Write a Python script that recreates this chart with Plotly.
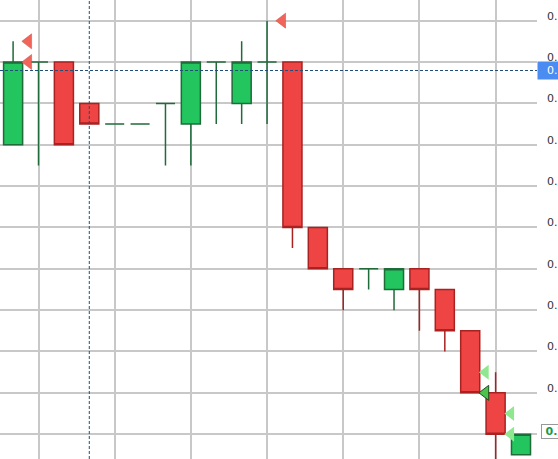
import plotly.graph_objects as go

# bougies (index de barre) et prix OHLC
bar_idx = list(range(21))
open_ = [0.7358, 0.7362, 0.7362, 0.7360, 0.7359, 0.7359, 0.7360, 0.7359, 0.7362, 0.7360, 0.7362,
         0.7362, 0.7354, 0.7352, 0.7352, 0.7351, 0.7352, 0.7351, 0.7349, 0.7346, 0.7343]
high = [0.7363, 0.7362, 0.7362, 0.7360, 0.7359, 0.7359, 0.7360, 0.7362, 0.7362, 0.7363, 0.7364,
        0.7362, 0.7354, 0.7352, 0.7352, 0.7352, 0.7352, 0.7351, 0.7349, 0.7347, 0.7344]
low = [0.7358, 0.7357, 0.7358, 0.7359, 0.7359, 0.7359, 0.7357, 0.7357, 0.7359, 0.7359, 0.7359,
       0.7353, 0.7352, 0.7350, 0.7351, 0.7350, 0.7349, 0.7348, 0.7346, 0.7342, 0.7343]
close = [0.7362, 0.7362, 0.7358, 0.7359, 0.7359, 0.7359, 0.7360, 0.7362, 0.7362, 0.7362, 0.7362,
         0.7354, 0.7352, 0.7351, 0.7352, 0.7352, 0.7351, 0.7349, 0.7346, 0.7344, 0.7344]

# signaux de vente / achat
sell_idx = [0, 0, 10]
sell_price = [0.7363, 0.7362, 0.7364]
buy_idx = [18, 19, 19]
buy_price = [0.7347, 0.7345, 0.7344]
buy_fill_idx = [18]
buy_fill_price = [0.7346]

# réticule
cross_idx = 3
cross_price = 0.736159

GREEN = "#22c55e"
GREEN_LINE = "#1f6b3a"
RED = "#ef4444"
RED_LINE = "#a82222"

up = [i for i in bar_idx if close[i] >= open_[i]]
down = [i for i in bar_idx if close[i] < open_[i]]


def pick(values, ids):
    return [values[i] for i in ids]


fig = go.Figure()

for ids, fill, line in [(up, GREEN, GREEN_LINE), (down, RED, RED_LINE)]:
    fig.add_trace(go.Candlestick(
        x=ids,
        open=pick(open_, ids),
        high=pick(high, ids),
        low=pick(low, ids),
        close=pick(close, ids),
        increasing=dict(fillcolor=fill, line=dict(color=line, width=1.5)),
        decreasing=dict(fillcolor=fill, line=dict(color=line, width=1.5)),
        whiskerwidth=0,
        showlegend=False,
    ))

offset = 0.6
fig.add_trace(go.Scatter(
    x=[i + offset for i in sell_idx], y=sell_price, mode="markers",
    marker=dict(symbol="triangle-left", size=13, color="#f0645a",
                line=dict(color="#c84a40", width=0.5)),
    showlegend=False,
))
fig.add_trace(go.Scatter(
    x=[i + offset for i in buy_idx], y=buy_price, mode="markers",
    marker=dict(symbol="triangle-left", size=13, color="#8fe88f", line=dict(width=0)),
    showlegend=False,
))
fig.add_trace(go.Scatter(
    x=[i + offset for i in buy_fill_idx], y=buy_fill_price, mode="markers",
    marker=dict(symbol="triangle-left", size=13, color="#4cc34c",
                line=dict(color="#1e4e1e", width=1)),
    showlegend=False,
))

# réticule
fig.add_vline(x=cross_idx, line=dict(color="#1f4e79", width=1, dash="3px,2px"))
fig.add_hline(y=cross_price, line=dict(color="#1f4e79", width=1, dash="3px,2px"))

fig.add_annotation(
    x=1, xref="paper", xanchor="left", y=cross_price, yref="y",
    text="&nbsp;&nbsp;0.73616", showarrow=False, align="left",
    bgcolor="#4a8cf2", borderpad=2,
    font=dict(family="DejaVu Sans", size=11, color="white"),
)
fig.add_annotation(
    x=1, xref="paper", xanchor="left", xshift=4, y=close[-1], yref="y", yshift=3,
    text="&nbsp;<b>0.73440</b>", showarrow=False, align="left",
    bgcolor="white", bordercolor="#999999", borderwidth=1, borderpad=0,
    font=dict(family="DejaVu Sans", size=11, color="#1a9a4a"),
)

fig.update_layout(
    width=558,
    height=459,
    margin=dict(l=0, r=21, t=0, b=0),
    plot_bgcolor="white",
    paper_bgcolor="white",
    boxgap=0.25,
    boxgroupgap=0,
    font=dict(family="DejaVu Sans", size=11, color="#333333"),
    xaxis=dict(
        range=[-0.516, 20.63], rangeslider=dict(visible=False),
        tick0=1, dtick=3, showticklabels=False, automargin=False,
        showgrid=True, gridcolor="#c8c8c8", gridwidth=1.5, zeroline=False,
        showline=False,
    ),
    yaxis=dict(
        side="right", range=[0.73428, 0.73650], automargin=False,
        tick0=0.7344, dtick=0.0002, tickformat=".5f",
        showgrid=True, gridcolor="#c8c8c8", gridwidth=1.5, zeroline=False,
        ticklabelstandoff=9, ticklabelshift=-5,
    ),
    hovermode=False,
)

fig.write_html(
    "out.html",
    config={"displayModeBar": False},
    post_script="document.body.style.margin='0';",
)
